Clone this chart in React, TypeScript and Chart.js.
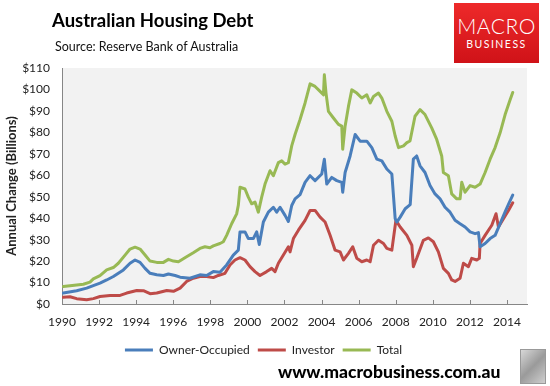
import React, { useEffect, useRef } from "react";
import { Chart, registerables } from "chart.js";

Chart.register(...registerables);

// [year, value in $ billions]
const ownerOccupied: [number, number][] = [
  [1990.07, 5.1], [1990.79, 6.2], [1991.33, 7.4], [1991.69, 8.6], [1992.05, 9.7],
  [1992.41, 11.2], [1992.77, 12.8], [1993.31, 15.9], [1993.67, 19.0], [1993.94, 20.5],
  [1994.21, 19.4], [1994.48, 16.6], [1994.75, 14.3], [1995.11, 13.6], [1995.47, 13.3],
  [1995.74, 14.0], [1996.10, 13.3], [1996.37, 12.5], [1996.9, 12.0], [1997.44, 13.6],
  [1997.8, 13.3], [1998.16, 15.1], [1998.52, 14.8], [1998.88, 18.2], [1999.24, 22.8],
  [1999.51, 25.1], [1999.6, 33.6], [1999.87, 33.6], [2000.05, 30.5], [2000.32, 30.5],
  [2000.5, 33.6], [2000.64, 27.7], [2000.86, 38.2], [2001.13, 42.8], [2001.4, 45.1],
  [2001.58, 42.8], [2001.76, 45.1], [2002.03, 41.3], [2002.21, 38.5], [2002.39, 45.9],
  [2002.57, 49.0], [2002.84, 51.0], [2003.11, 56.7], [2003.38, 59.8], [2003.65, 57.5],
  [2004.01, 60.6], [2004.15, 67.5], [2004.28, 55.9], [2004.55, 59.0], [2004.82, 57.5],
  [2005.09, 56.7], [2005.14, 52.1], [2005.27, 61.3], [2005.54, 69.0], [2005.81, 79.0],
  [2006.08, 75.9], [2006.44, 75.9], [2006.71, 72.9], [2006.98, 67.5], [2007.25, 66.7],
  [2007.52, 62.9], [2007.79, 60.6], [2007.97, 39.8], [2008.06, 38.2], [2008.24, 40.5],
  [2008.51, 44.4], [2008.78, 46.3], [2008.95, 67.5], [2009.13, 69.0], [2009.31, 64.4],
  [2009.58, 61.3], [2009.85, 55.2], [2010.12, 51.3], [2010.39, 49.0], [2010.66, 45.1],
  [2010.93, 42.8], [2011.2, 39.0], [2011.47, 37.4], [2011.74, 35.9], [2012.01, 33.6],
  [2012.28, 32.8], [2012.46, 33.3], [2012.55, 26.7], [2012.82, 28.2], [2013.09, 30.5],
  [2013.36, 32.0], [2013.63, 37.5], [2013.9, 43.0], [2014.08, 46.5], [2014.31, 50.8],
];

const investor: [number, number][] = [
  [1990.07, 3.1], [1990.43, 3.4], [1990.79, 2.5], [1991.33, 2.0], [1991.69, 2.5],
  [1992.05, 3.5], [1992.59, 4.0], [1993.13, 4.0], [1993.49, 5.1], [1994.03, 6.3],
  [1994.39, 6.2], [1994.75, 4.8], [1995.11, 5.1], [1995.65, 6.3], [1996.01, 5.9],
  [1996.37, 7.4], [1996.72, 10.5], [1997.08, 12.0], [1997.44, 12.8], [1997.8, 12.8],
  [1998.16, 12.3], [1998.43, 13.3], [1998.79, 14.3], [1999.06, 18.2], [1999.33, 20.5],
  [1999.6, 21.6], [1999.87, 20.5], [2000.14, 17.4], [2000.41, 15.1], [2000.68, 13.3],
  [2001.04, 15.1], [2001.31, 16.6], [2001.49, 15.1], [2001.67, 19.0], [2001.94, 22.8],
  [2002.21, 26.7], [2002.3, 24.3], [2002.48, 30.5], [2002.75, 34.4], [2003.11, 39.0],
  [2003.38, 43.6], [2003.65, 43.6], [2003.92, 40.5], [2004.19, 38.2], [2004.46, 32.0],
  [2004.73, 25.1], [2005.0, 24.3], [2005.18, 20.5], [2005.45, 23.6], [2005.68, 26.7],
  [2005.9, 21.3], [2006.17, 19.7], [2006.44, 20.5], [2006.62, 19.7], [2006.8, 27.4],
  [2007.07, 29.7], [2007.34, 28.2], [2007.52, 25.9], [2007.79, 25.1], [2008.01, 39.0],
  [2008.24, 35.9], [2008.6, 32.0], [2008.87, 27.4], [2008.95, 17.4], [2009.13, 21.3],
  [2009.49, 29.7], [2009.76, 30.8], [2010.03, 29.0], [2010.3, 24.3], [2010.57, 16.6],
  [2010.84, 14.3], [2011.02, 11.2], [2011.2, 10.5], [2011.47, 12.0], [2011.65, 19.0],
  [2011.92, 17.4], [2012.1, 21.3], [2012.37, 20.5], [2012.51, 21.3], [2012.55, 28.2],
  [2012.82, 32.0], [2013.18, 36.7], [2013.41, 42.1], [2013.54, 35.9], [2013.81, 39.8],
  [2014.08, 43.6], [2014.31, 47.2],
];

const total: [number, number][] = [
  [1990.07, 8.2], [1990.79, 8.9], [1991.15, 9.2], [1991.51, 10.2], [1991.69, 11.7],
  [1992.05, 13.2], [1992.41, 15.9], [1992.77, 17.0], [1993.04, 19.0], [1993.4, 22.8],
  [1993.67, 25.6], [1993.94, 26.5], [1994.21, 25.6], [1994.48, 22.8], [1994.75, 20.0],
  [1995.11, 19.4], [1995.47, 19.4], [1995.74, 20.8], [1996.01, 20.0], [1996.28, 19.7],
  [1996.72, 22.0], [1997.08, 23.9], [1997.44, 25.9], [1997.71, 26.7], [1997.98, 26.2],
  [1998.16, 27.1], [1998.52, 28.2], [1998.7, 29.0], [1998.88, 32.0], [1999.15, 37.4],
  [1999.42, 42.0], [1999.51, 46.0], [1999.6, 54.4], [1999.87, 53.6], [2000.05, 49.8],
  [2000.23, 46.7], [2000.41, 47.5], [2000.59, 42.8], [2000.77, 49.8], [2000.95, 55.9],
  [2001.22, 62.1], [2001.4, 59.8], [2001.67, 65.9], [2001.85, 66.7], [2002.03, 65.2],
  [2002.21, 65.9], [2002.39, 73.7], [2002.57, 79.0], [2002.84, 86.0], [2003.11, 93.7],
  [2003.38, 102.6], [2003.65, 101.4], [2003.92, 99.1], [2004.1, 97.5], [2004.15, 106.8],
  [2004.24, 98.3], [2004.37, 89.8], [2004.64, 86.7], [2004.91, 83.7], [2005.09, 82.9],
  [2005.14, 72.1], [2005.27, 82.9], [2005.45, 92.1], [2005.63, 99.8], [2005.9, 98.3],
  [2006.17, 96.0], [2006.44, 97.5], [2006.62, 93.7], [2006.8, 96.7], [2007.07, 98.3],
  [2007.25, 96.0], [2007.52, 89.8], [2007.79, 85.2], [2007.97, 78.3], [2008.15, 72.9],
  [2008.42, 73.7], [2008.6, 75.2], [2008.77, 76.0], [2009.04, 87.5], [2009.31, 90.6],
  [2009.58, 88.3], [2009.94, 82.1], [2010.21, 76.7], [2010.48, 69.0], [2010.57, 61.3],
  [2010.84, 59.8], [2011.02, 51.3], [2011.29, 49.0], [2011.47, 49.0], [2011.56, 56.7],
  [2011.74, 52.1], [2012.01, 55.2], [2012.28, 54.4], [2012.55, 55.9], [2012.82, 61.3],
  [2013.09, 67.5], [2013.36, 72.9], [2013.63, 79.8], [2013.9, 88.3], [2014.17, 95.2],
  [2014.31, 98.6],
];

const seriesNames = ["Owner-Occupied", "Investor", "Total"];
const xTickYears = [1990, 1992, 1994, 1996, 1998, 2000, 2002, 2004, 2006, 2008, 2010, 2012, 2014];
const yTickValues = [0, 10, 20, 30, 40, 50, 60, 70, 80, 90, 100, 110];

const FONT = "Lato, 'Open Sans', sans-serif";

const plotBackground = {
  id: "plotBackground",
  beforeDraw(chart: any) {
    const { ctx, chartArea } = chart;
    ctx.save();
    ctx.fillStyle = "#F2F2F2";
    ctx.fillRect(chartArea.left, chartArea.top, chartArea.right - chartArea.left, chartArea.bottom - chartArea.top);
    ctx.restore();
  },
};

const innerTicks = {
  id: "innerTicks",
  afterDraw(chart: any) {
    const { ctx, chartArea } = chart;
    const xs = chart.scales.x;
    ctx.save();
    ctx.strokeStyle = "#868686";
    ctx.lineWidth = 1;
    xs.ticks.forEach((t: any) => {
      const px = Math.round(xs.getPixelForValue(t.value)) + 0.5;
      ctx.beginPath();
      ctx.moveTo(px, chartArea.bottom);
      ctx.lineTo(px, chartArea.bottom - 4);
      ctx.stroke();
    });
    ctx.restore();
  },
};

function toPoints(arr: [number, number][]) {
  return arr.map(([x, y]) => ({ x, y }));
}

function HousingChart() {
  const ref = useRef<HTMLCanvasElement | null>(null);
  useEffect(() => {
    if (!ref.current) return;
    const colors = ["#4A7EBB", "#BE4B48", "#98B954"];
    const data = [ownerOccupied, investor, total];
    const chart = new Chart(ref.current, {
      type: "line",
      data: {
        datasets: data.map((d, i) => ({
          label: seriesNames[i],
          data: toPoints(d),
          borderColor: colors[i],
          backgroundColor: colors[i],
          borderWidth: 3,
          pointRadius: 0,
          tension: 0,
          borderJoinStyle: "round" as const,
          borderCapStyle: "round" as const,
        })),
      },
      options: {
        responsive: false,
        animation: false,
        events: [],
        layout: { padding: { top: 68, right: 23, left: 0, bottom: 20 } },
        plugins: {
          title: { display: false },
          tooltip: { enabled: false },
          legend: {
            position: "bottom",
            labels: {
              usePointStyle: true,
              pointStyle: "line",
              pointStyleWidth: 28,
              boxHeight: 12,
              padding: 8,
              color: "#222",
              font: { family: FONT, size: 12 },
            },
          },
        },
        scales: {
          x: {
            type: "linear",
            min: 1990,
            max: 2015.08,
            grid: { display: false, drawTicks: false },
            border: { display: true, color: "#868686", width: 1 },
            afterBuildTicks: (scale: any) => {
              scale.ticks = xTickYears.map((v) => ({ value: v }));
            },
            afterFit: (scale: any) => {
              scale.height = 32;
            },
            ticks: {
              padding: 11,
              color: "#222",
              maxRotation: 0,
              autoSkip: false,
              font: { family: FONT, size: 12 },
              callback: (v: any) => String(v),
            },
          },
          y: {
            type: "linear",
            min: 0,
            max: 110,
            grid: { display: false, drawTicks: false },
            border: { display: true, color: "#868686", width: 1 },
            afterBuildTicks: (scale: any) => {
              scale.ticks = yTickValues.map((v) => ({ value: v }));
            },
            afterFit: (scale: any) => {
              scale.width = 62;
            },
            title: {
              display: true,
              text: "Annual Change (Billions)",
              color: "#222",
              font: { family: FONT, size: 13, weight: "bold" },
              padding: { top: 4, bottom: 0 },
            },
            ticks: {
              padding: 12,
              color: "#222",
              font: { family: FONT, size: 12 },
              callback: (v: any) => "$" + v,
            },
          },
        },
      },
      plugins: [plotBackground, innerTicks],
    });
    return () => chart.destroy();
  }, []);
  return <canvas ref={ref} width={550} height={386} style={{ position: "absolute", left: 0, top: 0 }} />;
}

export default function App() {
  return (
    <div style={{ position: "absolute", left: 0, top: 0, width: 550, height: 386, background: "#fff", overflow: "hidden", fontFamily: FONT }}>
      <HousingChart />
      <div style={{ position: "absolute", left: 52, top: 9, fontSize: 18.5, fontWeight: 700, color: "#000", whiteSpace: "nowrap" }}>
        Australian Housing Debt
      </div>
      <div style={{ position: "absolute", left: 55, top: 39, fontSize: 12.5, color: "#111", whiteSpace: "nowrap" }}>
        Source: Reserve Bank of Australia
      </div>
      <div
        style={{
          position: "absolute", left: 454, top: 3, width: 85, height: 60,
          background: "linear-gradient(#EE2A2A, #D01218)",
          color: "#fff", textAlign: "center",
        }}
      >
        <div style={{ fontSize: 21, marginTop: 12, lineHeight: "22px", letterSpacing: 0.5, fontWeight: 300 }}>MACRO</div>
        <div style={{ fontSize: 10.5, lineHeight: "14px", letterSpacing: 1.5 }}>BUSINESS</div>
      </div>
      <div style={{ position: "absolute", left: 278, top: 361, fontSize: 17.5, fontWeight: 900, color: "#000", whiteSpace: "nowrap" }}>
        www.macrobusiness.com.au
      </div>
      <div
        style={{
          position: "absolute", left: 520, top: 349, width: 24, height: 33,
          border: "1px solid #999", background: "linear-gradient(135deg, #d8d8d8, #9a9a9a 50%, #cfcfcf)",
        }}
      />
    </div>
  );
}
